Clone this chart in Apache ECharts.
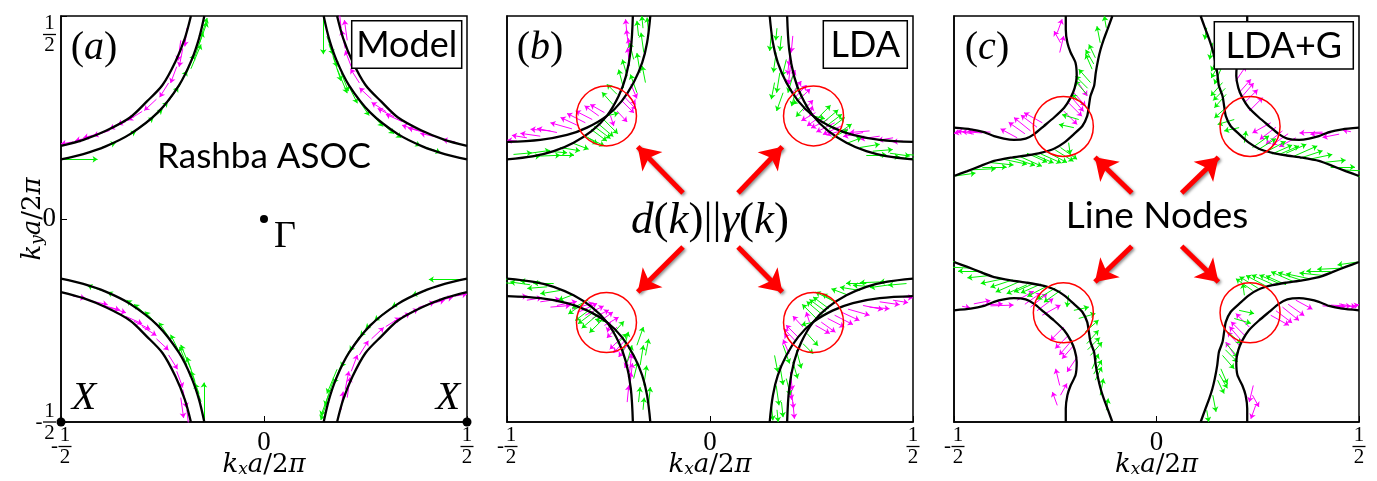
<!DOCTYPE html>
<html><head><meta charset="utf-8">
<script src="https://cdn.jsdelivr.net/npm/echarts@6/dist/echarts.min.js"></script>
<style>html,body{margin:0;padding:0;background:#fff}#c{width:1377px;height:481px}</style>
</head><body><div id="c"></div>
<script>
// ---------- data (top-left quadrant, others are mirror images) ----------
const tickValues = [-0.5, 0, 0.5];
const tickParts = [['-', '1', '2'], ['', '0', ''], ['', '1', '2']];

// panel (a) Model
const aOuterTL = [[-0.5,0.147],[-0.445,0.160],[-0.39,0.179],[-0.33,0.209],[-0.262,0.262],[-0.209,0.33],[-0.179,0.39],[-0.160,0.445],[-0.147,0.5]];
const aInnerTL = [[-0.5,0.18],[-0.445,0.195],[-0.388,0.218],[-0.33,0.25],[-0.289,0.289],[-0.25,0.33],[-0.218,0.388],[-0.195,0.445],[-0.18,0.5]];
const aMagentaTL = [[-0.19,0.47,-0.005,-0.045],[-0.20,0.42,-0.009,-0.045],[-0.205,0.44,-0.007,-0.05],[-0.215,0.375,-0.015,-0.04],[-0.235,0.335,-0.022,-0.035],[-0.265,0.295,-0.03,-0.028],[-0.30,0.265,-0.035,-0.022],[-0.32,0.252,-0.04,-0.02],[-0.34,0.24,-0.04,-0.018],[-0.38,0.218,-0.04,-0.013],[-0.40,0.212,-0.045,-0.012],[-0.425,0.202,-0.04,-0.009],[-0.47,0.19,-0.03,-0.005]];
const aGreenTL = [[-0.40,0.176,0.035,0.012],[-0.35,0.198,0.035,0.018],[-0.305,0.225,0.033,0.025],[-0.285,0.24,0.035,0.03],[-0.265,0.258,0.028,0.03],[-0.235,0.29,0.024,0.035],[-0.21,0.325,0.02,0.04],[-0.19,0.36,0.018,0.045],[-0.18,0.37,0.025,0.06],[-0.17,0.40,0.02,0.06],[-0.16,0.43,0.02,0.055],[-0.155,0.45,0.015,0.045]];
const aEdgeArrows = [[-0.5,0.147,0.09,0],[0.146,0.5,0,-0.094],[-0.148,-0.5,0,0.097],[0.5,-0.149,-0.094,0]];
const aGamma = [0, 0];
const aXPoints = [[-0.5,-0.5],[0.5,-0.5]];

// panel (b) LDA
const bCurve1TL = [[-0.5,0.190],[-0.418,0.195],[-0.352,0.207],[-0.303,0.225],[-0.254,0.254],[-0.217,0.291],[-0.188,0.336],[-0.167,0.385],[-0.155,0.434],[-0.147,0.5]];
const bCurve2TL = [[-0.5,0.147],[-0.434,0.155],[-0.385,0.167],[-0.336,0.188],[-0.291,0.217],[-0.254,0.254],[-0.225,0.303],[-0.207,0.352],[-0.195,0.418],[-0.190,0.5]];
const bGreenTL = [[-0.484,0.159,0.045,0.004],[-0.443,0.162,0.049,0.007],[-0.401,0.167,0.049,-0.004],[-0.369,0.176,0.049,-0.008],[-0.336,0.186,0.037,-0.014],[-0.467,0.151,0.049,0.004],[-0.418,0.155,0.049,0.002],[-0.385,0.158,0.05,0.0],[-0.313,0.209,0.036,-0.025],[-0.293,0.221,0.039,-0.029],[-0.277,0.236,0.039,-0.033],[-0.285,0.228,0.04,-0.03],[-0.262,0.245,0.035,-0.035],[-0.300,0.200,0.04,-0.02],[-0.239,0.282,-0.027,0.030],[-0.229,0.307,-0.025,0.025],[-0.213,0.323,-0.012,0.045],[-0.204,0.352,-0.012,0.041],[-0.180,0.311,-0.016,0.045],[-0.159,0.336,-0.008,0.041],[-0.172,0.360,-0.008,0.049],[-0.188,0.393,-0.010,0.041],[-0.163,0.410,-0.007,0.049],[-0.176,0.451,-0.004,0.037],[-0.151,0.455,-0.004,0.041],[-0.165,0.470,-0.003,0.03],[-0.254,0.254,0.029,0.007]];
const bMagentaTL = [[-0.418,0.204,-0.049,0.007],[-0.451,0.200,-0.037,0.006],[-0.393,0.217,-0.049,0.004],[-0.377,0.213,-0.049,0.010],[-0.340,0.222,-0.053,0.015],[-0.323,0.229,-0.045,0.021],[-0.307,0.237,-0.045,0.023],[-0.290,0.245,-0.041,0.021],[-0.274,0.254,-0.035,0.025],[-0.260,0.262,-0.035,0.02],[-0.229,0.266,0.025,-0.027],[-0.217,0.291,0.030,-0.030],[-0.210,0.300,0.028,-0.03],[-0.204,0.311,0.021,-0.029],[-0.195,0.332,0.015,-0.035],[-0.198,0.377,-0.005,0.045],[-0.196,0.400,-0.005,0.045],[-0.200,0.422,-0.006,0.045],[-0.204,0.451,-0.004,0.041],[-0.475,0.192,-0.025,0.002],[-0.245,0.254,0.008,-0.025]];
const bCircles = [[-0.255,0.254],[0.255,0.254],[-0.255,-0.255],[0.255,-0.255]];
const bRedArrows = [[-0.0665,0.064,-0.178,0.178],[0.069,0.064,0.178,0.178],[-0.0665,-0.069,-0.178,-0.18],[0.069,-0.069,0.178,-0.18]];

// panel (c) LDA+G
const cCurve1TL = [[-0.5,0.225],[-0.459,0.221],[-0.426,0.214],[-0.401,0.204],[-0.377,0.198],[-0.352,0.195],[-0.323,0.198],[-0.302,0.209],[-0.278,0.229],[-0.253,0.250],[-0.228,0.274],[-0.212,0.299],[-0.202,0.323],[-0.197,0.352],[-0.200,0.385],[-0.212,0.410],[-0.220,0.434],[-0.224,0.467],[-0.224,0.5]];
const cCurve2TL = [[-0.5,0.106],[-0.467,0.118],[-0.434,0.131],[-0.401,0.143],[-0.360,0.151],[-0.319,0.157],[-0.286,0.163],[-0.253,0.173],[-0.228,0.188],[-0.204,0.209],[-0.183,0.229],[-0.171,0.254],[-0.167,0.278],[-0.163,0.303],[-0.154,0.328],[-0.150,0.360],[-0.144,0.393],[-0.138,0.418],[-0.130,0.443],[-0.121,0.467],[-0.109,0.5]];
const cGreenTL = [[-0.496,0.106,0.049,0.007],[-0.459,0.121,0.062,0.003],[-0.430,0.128,0.06,0.0],[-0.410,0.139,0.057,-0.006],[-0.377,0.147,0.057,-0.012],[-0.355,0.150,0.055,-0.018],[-0.340,0.155,0.057,-0.025],[-0.320,0.162,0.05,-0.022],[-0.303,0.159,0.049,-0.021],[-0.285,0.160,0.05,-0.022],[-0.270,0.165,0.049,-0.026],[-0.250,0.170,0.045,-0.028],[-0.237,0.176,0.041,-0.029],[-0.217,0.188,0.004,-0.029],[-0.204,0.225,-0.037,0.008],[-0.192,0.245,-0.041,0.012],[-0.176,0.278,-0.033,0.029],[-0.172,0.307,-0.029,0.033],[-0.170,0.322,-0.03,0.03],[-0.163,0.336,-0.029,0.033],[-0.159,0.369,-0.016,0.037],[-0.155,0.382,-0.02,0.035],[-0.151,0.397,-0.016,0.033],[-0.139,0.434,-0.008,0.041],[-0.124,0.471,-0.005,0.029]];
const cMagentaTL = [[-0.451,0.209,-0.041,0.008],[-0.430,0.212,-0.05,0.003],[-0.410,0.214,-0.057,0.002],[-0.480,0.215,-0.02,-0.004],[-0.344,0.200,-0.041,0.022],[-0.325,0.210,-0.04,0.028],[-0.311,0.217,-0.041,0.033],[-0.295,0.226,-0.04,0.03],[-0.282,0.237,-0.045,0.025],[-0.229,0.266,0.033,-0.033],[-0.217,0.286,0.033,-0.033],[-0.210,0.300,0.03,-0.035],[-0.204,0.311,0.029,-0.033],[-0.196,0.340,0.025,-0.037],[-0.239,0.410,0.010,0.041],[-0.245,0.459,0.012,0.033],[-0.237,0.434,-0.016,0.029]];
const cCircles = [[-0.23,0.228],[0.231,0.228],[-0.23,-0.231],[0.231,-0.231]];
const cRedArrows = [[-0.061,0.064,-0.152,0.152],[0.062,0.064,0.153,0.152],[-0.061,-0.067,-0.152,-0.155],[0.062,-0.067,0.153,-0.155]];

// ---------- helpers ----------
const quads = [[1,1],[-1,1],[1,-1],[-1,-1]];
function mirrorCurves(pts){ return quads.map(([sx,sy]) => pts.map(p => [sx*p[0], sy*p[1]])); }
function mirrorArrows(arr){ const out=[]; quads.forEach(([sx,sy]) => arr.forEach(a => out.push([sx*a[0], sy*a[1], sy*a[2], sx*a[3]]))); return out; }

const SERIF = 'Liberation Serif';
const NAMESERIF = 'DejaVu Serif';
const SANS = 'Lato';
const GREEN = '#00f000', MAGENTA = '#ff00ff';

function curveSeries(pts, gi, smooth){
  return {type:'line', xAxisIndex:gi, yAxisIndex:gi, data:pts, showSymbol:false, symbol:'none', smooth:smooth,
    lineStyle:{color:'#000', width:2.3}, z:4, silent:true};
}
function arrowSeries(list, color, gi, z){
  return {type:'lines', coordinateSystem:'cartesian2d', xAxisIndex:gi, yAxisIndex:gi, z:z, silent:true,
    symbol:['none','arrow'], symbolSize:5, lineStyle:{color:color, width:1, opacity:1},
    data:list.map(a => ({coords:[[a[0],a[1]],[a[0]+a[2],a[1]+a[3]]]}))};
}
function redArrowSeries(list, gi){
  return {type:'lines', coordinateSystem:'cartesian2d', xAxisIndex:gi, yAxisIndex:gi, z:8, silent:true,
    symbol:['none','arrow'], symbolSize:[18,21],
    lineStyle:{color:'#ff0000', width:5, opacity:1, shadowColor:'rgba(0,0,0,0.45)', shadowBlur:3, shadowOffsetX:1.5, shadowOffsetY:1.5},
    data:list.map(a => ({coords:[[a[0],a[1]],[a[2],a[3]]]}))};
}
function circleSeries(list, gi){
  return {type:'scatter', xAxisIndex:gi, yAxisIndex:gi, z:7, silent:true, symbol:'circle', symbolSize:60,
    itemStyle:{color:'rgba(0,0,0,0)', borderColor:'#ff0000', borderWidth:1.5, opacity:1}, data:list};
}

const fracRich = {
  n:{fontFamily:SERIF, fontSize:21, width:13, align:'center', lineHeight:17, color:'#000'},
  bar:{width:13, height:1.3, backgroundColor:'#000', lineHeight:5},
  m:{fontFamily:SERIF, fontSize:21, width:8, align:'center', lineHeight:5, color:'#000'},
  sp:{width:8, lineHeight:17},
  z:{fontFamily:SERIF, fontSize:27, lineHeight:32, color:'#000'}
};
function fracText(v){
  const i = tickValues.findIndex(t => Math.abs(t - v) < 1e-9);
  if (i < 0) return '';
  const [s, a, b] = tickParts[i];
  if (b === '') return '{z|' + a + '}';
  if (s) return '{sp| }{n|' + a + '}\n{m|' + s + '}{bar| }\n{sp| }{n|' + b + '}';
  return '{n|' + a + '}\n{bar| }\n{n|' + b + '}';
}
const topValue = tickValues[tickValues.length - 1];
const nameRich = {
  i:{fontFamily:NAMESERIF, fontStyle:'italic', fontSize:26, color:'#000'},
  r:{fontFamily:NAMESERIF, fontStyle:'normal', fontSize:26, color:'#000'},
  s:{fontFamily:NAMESERIF, fontStyle:'italic', fontSize:17, verticalAlign:'bottom', lineHeight:16, color:'#000'}
};
const nameStyle = {fontFamily:NAMESERIF, fontStyle:'italic', fontSize:26, color:'#000', rich:nameRich};

const grids = [{left:61,top:16,width:406,height:406},{left:507,top:16,width:406,height:406},{left:954,top:16,width:405,height:406}]
  .map(g => Object.assign(g, {show:true, borderColor:'#000', borderWidth:1.5, backgroundColor:'rgba(0,0,0,0)', containLabel:false, outerBoundsMode:'none'}));

const xAxes = [0,1,2].map(i => ({gridIndex:i, type:'value', min:-0.5, max:0.5, interval:0.5,
  axisLine:{show:true, onZero:false, lineStyle:{color:'#000', width:1.5}}, axisTick:{show:true, inside:true, length:6, lineStyle:{color:'#000', width:1}},
  splitLine:{show:false}, axisLabel:{margin:5, formatter:fracText, rich:fracRich},
  name:'{i|k}{s|x}{i|a}{r|/2}{i|π}', nameLocation:'middle', nameGap:30, nameMoveOverlap:false, nameTextStyle:nameStyle}));
const yAxes = [0,1,2].map(i => ({gridIndex:i, type:'value', min:-0.5, max:0.5, interval:0.5,
  axisLine:{show:true, onZero:false, lineStyle:{color:'#000', width:1.5}}, axisTick:{show:i===0, inside:true, length:6, lineStyle:{color:'#000', width:1}},
  splitLine:{show:false}, axisLabel:{show:i===0, margin:5, formatter:v => (Math.abs(v - topValue) < 1e-9 ? '' : fracText(v)), rich:fracRich},
  name: i===0 ? '{i|k}{s|y}{i|a}{r|/2}{i|π}' : '', nameLocation:'middle', nameGap:15, nameRotate:90, nameMoveOverlap:false, nameTextStyle:nameStyle}));

const dotStyle = {color:'#000', opacity:1};
const series = [];
// panel a
series.push(arrowSeries(mirrorArrows(aMagentaTL), MAGENTA, 0, 2), arrowSeries(mirrorArrows(aGreenTL), GREEN, 0, 3), arrowSeries(aEdgeArrows, GREEN, 0, 3));
mirrorCurves(aOuterTL).forEach(c => series.push(curveSeries(c, 0, 0.3)));
mirrorCurves(aInnerTL).forEach(c => series.push(curveSeries(c, 0, 0.3)));
series.push({type:'scatter', xAxisIndex:0, yAxisIndex:0, z:6, symbolSize:8, clip:false, itemStyle:dotStyle, data:[aGamma]});
series.push({type:'scatter', xAxisIndex:0, yAxisIndex:0, z:6, symbolSize:9, clip:false, itemStyle:dotStyle, data:aXPoints});
// panel b
series.push(arrowSeries(mirrorArrows(bMagentaTL), MAGENTA, 1, 2), arrowSeries(mirrorArrows(bGreenTL), GREEN, 1, 3));
mirrorCurves(bCurve1TL).forEach(c => series.push(curveSeries(c, 1, 0.35)));
mirrorCurves(bCurve2TL).forEach(c => series.push(curveSeries(c, 1, 0.35)));
series.push(circleSeries(bCircles, 1), redArrowSeries(bRedArrows, 1));
// panel c
series.push(arrowSeries(mirrorArrows(cMagentaTL), MAGENTA, 2, 2), arrowSeries(mirrorArrows(cGreenTL), GREEN, 2, 3));
mirrorCurves(cCurve1TL).forEach(c => series.push(curveSeries(c, 2, 0.2)));
mirrorCurves(cCurve2TL).forEach(c => series.push(curveSeries(c, 2, 0.2)));
series.push(circleSeries(cCircles, 2), redArrowSeries(cRedArrows, 2));

const panelRich = {r:{fontFamily:SERIF, fontSize:40, color:'#000'}, i:{fontFamily:SERIF, fontStyle:'italic', fontSize:40, color:'#000'}};
const dkRich = {r:{fontFamily:SERIF, fontSize:45, color:'#000'}, i:{fontFamily:SERIF, fontStyle:'italic', fontSize:45, color:'#000'}};
function txt(x, y, text, extra){ return {type:'text', x:x, y:y, z:120, style:Object.assign({text:text, align:'center', verticalAlign:'middle', fill:'#000'}, extra)}; }
function box(x, y, w, h){ return {type:'rect', z:110, shape:{x:x, y:y, width:w, height:h}, style:{fill:'#fff', stroke:'#000', lineWidth:1.5}}; }
const graphic = [
  txt(94, 48, '{r|(}{i|a}{r|)}', {rich:panelRich}),
  txt(540, 48, '{r|(}{i|b}{r|)}', {rich:panelRich}),
  txt(987, 48, '{r|(}{i|c}{r|)}', {rich:panelRich}),
  box(351.7, 20.7, 110, 47.6), txt(406.7, 45, 'Model', {fontFamily:SANS, fontSize:36}),
  box(823.3, 20.7, 84, 47.6), txt(865.3, 45, 'LDA', {fontFamily:SANS, fontSize:36}),
  box(1214.3, 21.7, 139, 47.3), txt(1283.8, 46, 'LDA+G', {fontFamily:SANS, fontSize:36}),
  txt(264, 157, 'Rashba ASOC', {fontFamily:SANS, fontSize:35}),
  txt(1157, 216, 'Line Nodes', {fontFamily:SANS, fontSize:37}),
  txt(710, 221, '{i|d}{r|(}{i|k}{r|)||}{i|γ}{r|(}{i|k}{r|)}', {rich:dkRich})
];

const chart = echarts.init(document.getElementById('c'), null, {renderer:'canvas'});
chart.setOption({animation:false, backgroundColor:'#fff', grid:grids, xAxis:xAxes, yAxis:yAxes, series:series, graphic:graphic});
// point labels (Γ, X) and the top y tick label (hangs below its tick), attached to data positions
const gPx = chart.convertToPixel({gridIndex:0}, aGamma);
const xPx = aXPoints.map(p => chart.convertToPixel({gridIndex:0}, p));
const topPx = chart.convertToPixel({gridIndex:0}, [-0.5, topValue]);
chart.setOption({graphic: graphic.concat([
  txt(gPx[0] + 21, gPx[1] + 18, 'Γ', {fontFamily:SERIF, fontSize:38}),
  txt(xPx[0][0] + 23, xPx[0][1] - 24, 'X', {fontFamily:SERIF, fontStyle:'italic', fontSize:40}),
  txt(xPx[1][0] - 19, xPx[1][1] - 24, 'X', {fontFamily:SERIF, fontStyle:'italic', fontSize:40}),
  txt(topPx[0] - 5, topPx[1] - 1, fracText(topValue), {rich:fracRich, align:'right', verticalAlign:'top'})
])});
</script></body></html>
